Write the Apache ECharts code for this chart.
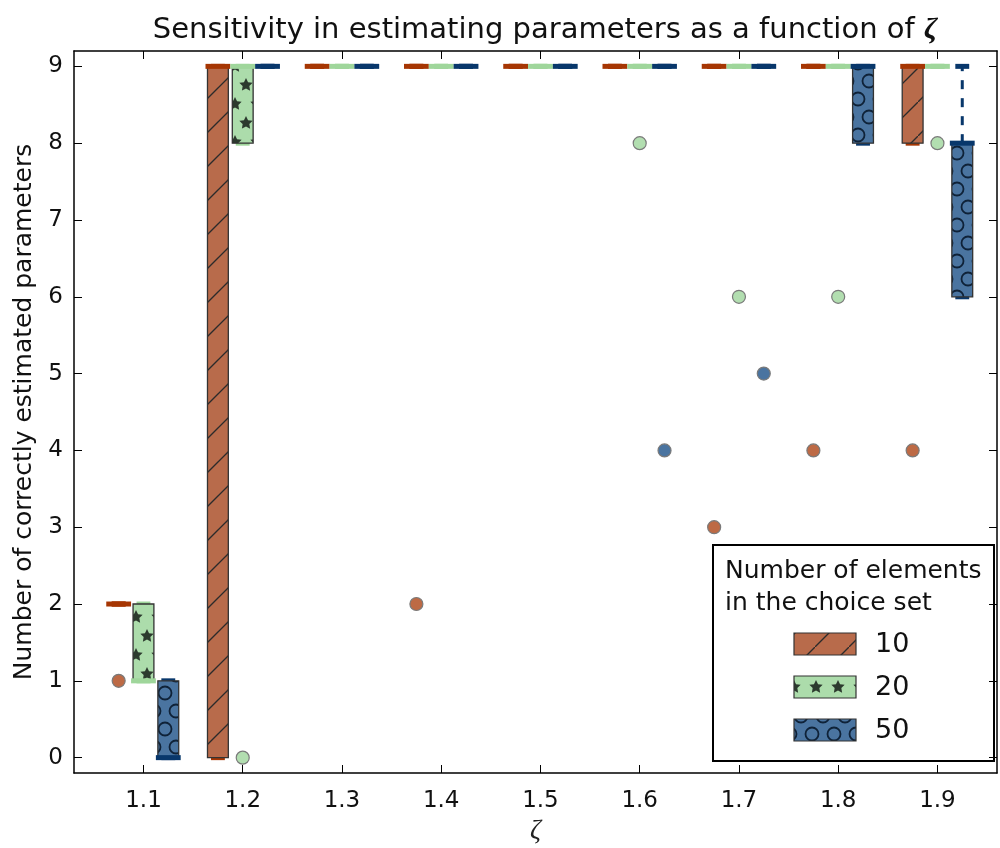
<!DOCTYPE html>
<html>
<head>
<meta charset="utf-8">
<script src="https://cdn.jsdelivr.net/npm/echarts@6/dist/echarts.min.js"></script>
<style>
  html, body { margin: 0; padding: 0; background: #fff; }
  #chart { width: 1000px; height: 848px; }
</style>
</head>
<body>
<div id="chart"></div>
<script>
// zeta values (group centres)
const zetas = [1.1, 1.2, 1.3, 1.4, 1.5, 1.6, 1.7, 1.8, 1.9];
const xTicks = [1.1, 1.2, 1.3, 1.4, 1.5, 1.6, 1.7, 1.8, 1.9];
const yTicks = [0, 1, 2, 3, 4, 5, 6, 7, 8, 9];

// box statistics per choice-set size
const q1_10 = [2, 0, 9, 9, 9, 9, 9, 9, 8];
const q3_10 = [2, 9, 9, 9, 9, 9, 9, 9, 9];
const med_10 = [2, 9, 9, 9, 9, 9, 9, 9, 9];
const whi_10 = [2, 9, 9, 9, 9, 9, 9, 9, 9];

const q1_20 = [1, 8, 9, 9, 9, 9, 9, 9, 9];
const q3_20 = [2, 9, 9, 9, 9, 9, 9, 9, 9];
const med_20 = [1, 9, 9, 9, 9, 9, 9, 9, 9];
const whi_20 = [2, 9, 9, 9, 9, 9, 9, 9, 9];

const q1_50 = [0, 9, 9, 9, 9, 9, 9, 8, 6];
const q3_50 = [1, 9, 9, 9, 9, 9, 9, 9, 8];
const med_50 = [0, 9, 9, 9, 9, 9, 9, 9, 8];
const whi_50 = [1, 9, 9, 9, 9, 9, 9, 9, 9];

// outliers [zeta, value]
const out_10 = [[1.1, 1], [1.4, 2], [1.7, 3], [1.8, 4], [1.9, 4]];
const out_20 = [[1.2, 0], [1.6, 8], [1.7, 6], [1.8, 6], [1.9, 8]];
const out_50 = [[1.6, 4], [1.7, 5]];

// pattern tiles (hatches)
function makeTile(w, h, bg, draw) {
  const c = document.createElement('canvas');
  c.width = w; c.height = h;
  const ctx = c.getContext('2d');
  ctx.fillStyle = bg;
  ctx.fillRect(0, 0, w, h);
  ctx.strokeStyle = '#2b2b2b';
  ctx.fillStyle = '#2c3a2e';
  draw(ctx);
  return { image: c, repeat: 'repeat' };
}

function star(ctx, cx, cy, r) {
  ctx.beginPath();
  for (let i = 0; i < 10; i++) {
    const rr = i % 2 === 0 ? r : r * 0.5;
    const a = -Math.PI / 2 + i * Math.PI / 5;
    const px = cx + rr * Math.cos(a), py = cy + rr * Math.sin(a);
    if (i === 0) ctx.moveTo(px, py); else ctx.lineTo(px, py);
  }
  ctx.closePath();
  ctx.fill();
}

const hatch10 = makeTile(34, 34, '#b86b4b', function (ctx) {
  ctx.lineWidth = 1.3;
  ctx.beginPath();
  ctx.moveTo(-2, 36); ctx.lineTo(36, -2);
  ctx.stroke();
});
const hatch20 = makeTile(22, 38, '#acdcab', function (ctx) {
  [[4, 9], [26, 9], [15, 28], [-7, 28]].forEach(function (p) { star(ctx, p[0], p[1], 7); });
});
const hatch50 = makeTile(22, 36, '#4a74a0', function (ctx) {
  ctx.strokeStyle = '#0f2238';
  ctx.lineWidth = 1.8;
  [[11, 9], [0, 27], [22, 27]].forEach(function (p) {
    ctx.beginPath();
    ctx.arc(p[0], p[1], 6.5, 0, Math.PI * 2);
    ctx.stroke();
  });
});

const sizes = [
  { name: '10', off: -0.025, q1: q1_10, q3: q3_10, med: med_10, whi: whi_10, out: out_10,
    fill: hatch10, line: '#a63603', dot: '#bd6a45' },
  { name: '20', off: 0, q1: q1_20, q3: q3_20, med: med_20, whi: whi_20, out: out_20,
    fill: hatch20, line: '#9fd69b', dot: '#b2deb0' },
  { name: '50', off: 0.025, q1: q1_50, q3: q3_50, med: med_50, whi: whi_50, out: out_50,
    fill: hatch50, line: '#08376b', dot: '#4a74a0' }
];

function boxSeries(s) {
  const data = zetas.map(function (z, i) {
    return [z + s.off, s.q1[i], s.q3[i], s.med[i], s.whi[i]];
  });
  return {
    type: 'custom',
    name: s.name,
    data: data,
    clip: false,
    z: 3,
    renderItem: function (params, api) {
      const x = api.value(0);
      const lo = api.value(1), hi = api.value(2), md = api.value(3), wh = api.value(4);
      const pLo = api.coord([x, lo]);
      const pHi = api.coord([x, hi]);
      const pMd = api.coord([x, md]);
      const pWh = api.coord([x, wh]);
      const bw = api.size([0.021, 0])[0];
      const mw = api.size([0.025, 0])[0];
      const cw = api.size([0.014, 0])[0];
      const cx = pLo[0];
      const kids = [];
      if (wh > hi) {
        kids.push({
          type: 'line',
          shape: { x1: cx, y1: pHi[1], x2: cx, y2: pWh[1] },
          style: { stroke: s.line, lineWidth: 3, lineDash: [9, 9] }
        });
      }
      // caps
      [pLo[1], pWh[1]].forEach(function (y) {
        kids.push({
          type: 'line',
          shape: { x1: cx - cw / 2, y1: y, x2: cx + cw / 2, y2: y },
          style: { stroke: s.line, lineWidth: 5 }
        });
      });
      if (hi > lo) {
        kids.push({
          type: 'rect',
          shape: { x: cx - bw / 2, y: pHi[1], width: bw, height: pLo[1] - pHi[1] },
          style: { fill: s.fill, stroke: '#333', lineWidth: 1.3 }
        });
      }
      // median
      kids.push({
        type: 'line',
        shape: { x1: cx - mw / 2, y1: pMd[1], x2: cx + mw / 2, y2: pMd[1] },
        style: { stroke: s.line, lineWidth: 5 }
      });
      return { type: 'group', children: kids };
    }
  };
}

function outlierSeries(s) {
  return {
    type: 'scatter',
    name: s.name + ' outliers',
    data: s.out.map(function (p) { return [p[0] + s.off, p[1]]; }),
    symbol: 'circle',
    symbolSize: 13,
    z: 4,
    itemStyle: { color: s.dot, borderColor: '#7a7a7a', borderWidth: 1.2, opacity: 1 }
  };
}

const series = [];
sizes.forEach(function (s) { series.push(boxSeries(s)); });
sizes.forEach(function (s) { series.push(outlierSeries(s)); });

const font = 'DejaVu Sans';
const axisCommon = {
  splitLine: { show: false },
  axisLine: { show: true, onZero: false, lineStyle: { color: '#000', width: 1.5 } }
};

// legend drawn as graphics (title + hatched patches)
const legX = 712, legY = 544;
const legendKids = [
  { type: 'rect', shape: { x: 0, y: 0, width: 281, height: 216 },
    style: { fill: '#fff', stroke: '#000', lineWidth: 2 } },
  { type: 'text', x: 12, y: 10,
    style: { text: 'Number of elements\nin the choice set', font: '25px "DejaVu Sans"',
      fill: '#111', lineHeight: 32 } }
];
sizes.forEach(function (s, i) {
  const cy = 99 + i * 43;
  legendKids.push({ type: 'rect', shape: { x: 81, y: cy - 11, width: 62, height: 22 },
    style: { fill: s.fill, stroke: '#333', lineWidth: 1.2 } });
  legendKids.push({ type: 'text', x: 162, y: cy + 1,
    style: { text: s.name, font: '27px "DejaVu Sans"', fill: '#111', verticalAlign: 'middle' } });
});

const chart = echarts.init(document.getElementById('chart'), null, { renderer: 'canvas' });
chart.setOption({
  backgroundColor: '#fff',
  animation: false,
  title: {
    text: '{t|Sensitivity in estimating parameters as a function of }{z|ζ}',
    left: 540,
    textAlign: 'center',
    top: 10,
    textStyle: {
      rich: {
        t: { fontFamily: font, fontSize: 29, color: '#111', fontWeight: 'normal' },
        z: { fontFamily: 'Liberation Serif', fontStyle: 'italic', fontSize: 30, color: '#111' }
      }
    }
  },
  grid: { left: 74, right: 3, top: 51, bottom: 75, outerBoundsMode: 'none', containLabel: false },
  xAxis: [
    Object.assign({}, axisCommon, {
      type: 'value', min: 1.03, max: 1.96, position: 'bottom',
      name: 'ζ', nameLocation: 'middle', nameGap: 44,
      nameTextStyle: { fontFamily: 'Liberation Serif', fontStyle: 'italic', fontSize: 27, color: '#222' },
      axisTick: { show: true, inside: true, length: 8, customValues: xTicks,
        lineStyle: { color: '#000', width: 1 } },
      axisLabel: { customValues: xTicks, fontFamily: font, fontSize: 23, color: '#111', margin: 17,
        formatter: function (v) { return v.toFixed(1); } }
    }),
    Object.assign({}, axisCommon, {
      type: 'value', min: 1.03, max: 1.96, position: 'top',
      axisTick: { show: true, inside: true, length: 8, customValues: xTicks,
        lineStyle: { color: '#000', width: 1 } },
      axisLabel: { show: false }
    })
  ],
  yAxis: [
    Object.assign({}, axisCommon, {
      type: 'value', min: -0.2, max: 9.2, position: 'left',
      name: 'Number of correctly estimated parameters', nameLocation: 'middle', nameGap: 34,
      nameRotate: 90,
      nameTextStyle: { fontFamily: font, fontSize: 25, color: '#111' },
      axisTick: { show: true, inside: true, length: 8, customValues: yTicks,
        lineStyle: { color: '#000', width: 1 } },
      axisLabel: { customValues: yTicks, fontFamily: font, fontSize: 23, color: '#111', margin: 11 }
    }),
    Object.assign({}, axisCommon, {
      type: 'value', min: -0.2, max: 9.2, position: 'right',
      axisTick: { show: true, inside: true, length: 8, customValues: yTicks,
        lineStyle: { color: '#000', width: 1 } },
      axisLabel: { show: false }
    })
  ],
  graphic: [{ type: 'group', left: legX, top: legY, z: 100, children: legendKids }],
  series: series
});
</script>
</body>
</html>
